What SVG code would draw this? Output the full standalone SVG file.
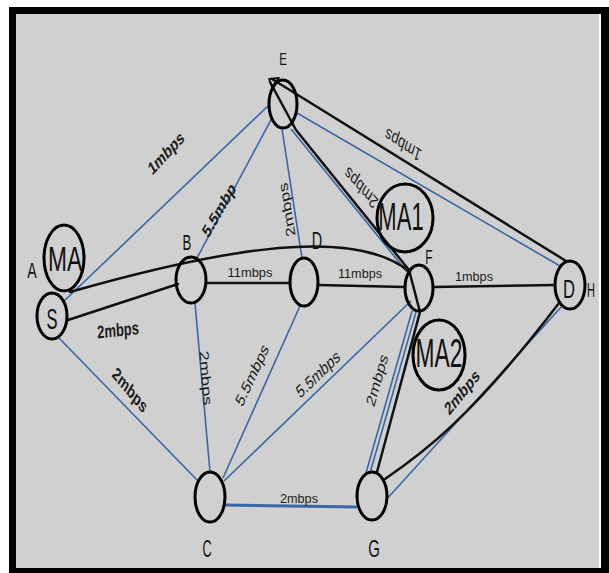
<svg xmlns="http://www.w3.org/2000/svg" width="609" height="573" viewBox="0 0 609 573">
<style>
.node{fill:none;stroke:#000;stroke-width:3}
.blk{fill:none;stroke:#111;stroke-width:2.5;stroke-linecap:round;stroke-linejoin:round}
.blu{fill:none;stroke:#3767a6;stroke-width:1.6}
.lbl{font-family:"Liberation Sans",Arial,sans-serif;font-size:13px;fill:#1c1c1c;text-anchor:middle}
.b{font-weight:bold}
.nl{font-family:"Liberation Sans",Arial,sans-serif;fill:#111;text-anchor:middle}
</style>
<rect x="0" y="0" width="609" height="573" fill="#fff"/>
<rect x="9" y="7" width="600" height="566" fill="#000"/>
<rect x="16" y="14" width="583" height="554" fill="#d0d0d0"/>
<rect x="599" y="14" width="2" height="554" fill="#fff"/>

<g id="connectors">
  <path class="blu" d="M63,302 L268,106"/>
  <path class="blu" d="M59,338 L199,482"/>
  <path class="blu" d="M197,258 L272,118"/>
  <path class="blu" d="M282,129 L302,258"/>
  <path class="blu" d="M195,303 L210,472"/>
  <path class="blu" d="M300,306 L223,478"/>
  <path class="blu" d="M411,301 L224,481"/>
  <path class="blu" d="M291,129 L407,272"/>
  <path class="blu" d="M297,113 L560,266"/>
  <path class="blu" d="M412,311 L366,473"/>
  <path class="blu" d="M416,312 L370,473"/>
  <path class="blu" d="M385,501 L563,305"/>
  <path class="blu" d="M225,505 L357,507" style="stroke-width:3"/>
  <path class="blk" d="M70,292 C200,255 350,222 410,272"/>
  <path class="blk" d="M68,320 L178,284"/>
  <path class="blk" d="M206,283 L290,283"/>
  <path class="blk" d="M318,285 L405,287"/>
  <path class="blk" d="M433,287 L555,285"/>
  <path class="blk" d="M270,82 L296,130 L409,270 L420,312 L377,472"/>
  <path class="blk" d="M272,79 L566,261"/>
  <path class="blk" d="M385,479 C420,455 470,420 559,303"/>
  <path class="blk" d="M269,79 L279,78 L272,87 Z" style="stroke-width:1.8"/>

  <text class="lbl b" transform="translate(166,153) scale(1,1.4) rotate(-37.5)" y="4.5">1mbps</text>
  <text class="lbl b" transform="translate(130,390) scale(1,1.4) rotate(40.4)" y="4.5">2mbps</text>
  <text class="lbl b" transform="translate(118,330) scale(1,1.4) rotate(-4.3)" y="4.5">2mbps</text>
  <text class="lbl b" transform="translate(219,210) scale(1,1.4) rotate(-51)" y="4.5">5.5mbp</text>
  <text class="lbl" transform="translate(287,210) scale(1,1.4) rotate(-102.5)" y="4.5">2mbps</text>
  <text class="lbl" transform="translate(361,188) scale(1,1.4) rotate(218.4)" y="4.5">2mbps</text>
  <text class="lbl" transform="translate(403,145) scale(1,1.4) rotate(204.9)" y="4.5">1mbps</text>
  <text class="lbl" x="250" y="277" textLength="45" lengthAdjust="spacingAndGlyphs">11mbps</text>
  <text class="lbl" x="360" y="278" textLength="44" lengthAdjust="spacingAndGlyphs">11mbps</text>
  <text class="lbl" x="474" y="281" textLength="38" lengthAdjust="spacingAndGlyphs">1mbps</text>
  <text class="lbl" transform="translate(206,378) scale(1,1.4) rotate(84.4)" y="4.5">2mbps</text>
  <text class="lbl" transform="translate(252,375) scale(1,1.4) rotate(-56.9)" y="4.5">5.5mbps</text>
  <text class="lbl" transform="translate(318,374) scale(1,1.4) rotate(-34.6)" y="4.5">5.5mbps</text>
  <text class="lbl" transform="translate(377,380) scale(1,1.4) rotate(-68.1)" y="4.5">2mbps</text>
  <text class="lbl b" transform="translate(462,392) scale(1,1.4) rotate(-41.4)" y="4.5">2mbps</text>
  <text class="lbl" x="299" y="503" textLength="38" lengthAdjust="spacingAndGlyphs">2mbps</text>
</g>

<g id="node-S"><ellipse class="node" cx="52" cy="316" rx="15" ry="23"/><text class="nl" font-size="30" transform="translate(52,329) scale(0.55,1)">S</text></g>
<g id="node-MA"><ellipse class="node" cx="64" cy="258" rx="20" ry="33"/><text class="nl" font-size="35" transform="translate(65,270.5) scale(0.65,1)">MA</text><text class="nl" font-size="22" transform="translate(32,278) scale(0.65,1)">A</text></g>
<g id="node-E"><ellipse class="node" cx="283" cy="104" rx="14" ry="24"/><text class="nl" font-size="17" transform="translate(283,65) scale(0.68,1)">E</text></g>
<g id="node-B"><ellipse class="node" cx="191" cy="280" rx="15" ry="23"/><text class="nl" font-size="22" transform="translate(187,250) scale(0.6,1)">B</text></g>
<g id="node-D"><ellipse class="node" cx="304" cy="282" rx="14" ry="24"/><text class="nl" font-size="24" transform="translate(317,249) scale(0.6,1)">D</text></g>
<g id="node-F"><ellipse class="node" cx="419" cy="288" rx="14" ry="23"/><text class="nl" font-size="20" transform="translate(429,264) scale(0.6,1)">F</text></g>
<g id="node-MA1"><ellipse class="node" cx="405" cy="218" rx="28" ry="34"/><text class="nl" font-size="38" transform="translate(401,230) scale(0.58,1)">MA1</text></g>
<g id="node-MA2"><ellipse class="node" cx="439" cy="355" rx="26" ry="35"/><text class="nl" font-size="40" transform="translate(439,367) scale(0.57,1)">MA2</text></g>
<g id="node-DH"><ellipse class="node" cx="570" cy="285" rx="15" ry="24"/><text class="nl" font-size="26" transform="translate(569,297.5) scale(0.64,1)">D</text><text class="nl" font-size="20" transform="translate(591,297) scale(0.55,1)">H</text></g>
<g id="node-C"><ellipse class="node" cx="210" cy="497" rx="15" ry="25"/><text class="nl" font-size="23" transform="translate(207,557) scale(0.55,1)">C</text></g>
<g id="node-G"><ellipse class="node" cx="372" cy="496" rx="15" ry="24"/><text class="nl" font-size="23" transform="translate(374,557) scale(0.65,1)">G</text></g>
</svg>
